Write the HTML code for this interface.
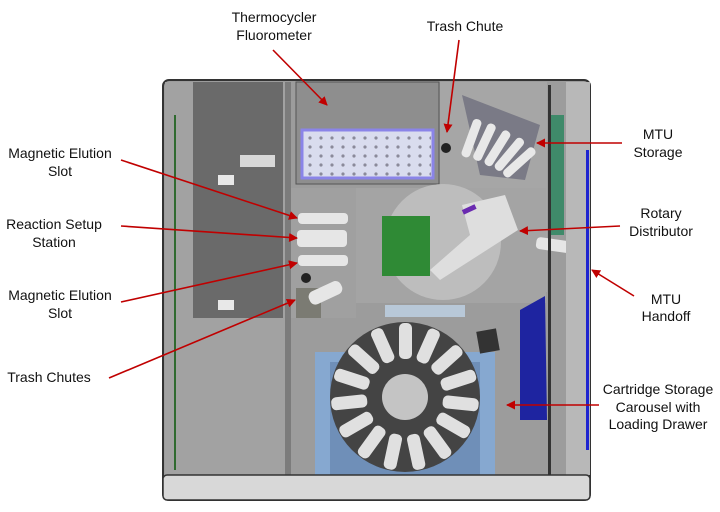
<!DOCTYPE html>
<html><head><style>
html,body{margin:0;padding:0;background:#fff;overflow:hidden;}
svg{display:block;}
text{font-family:"Liberation Sans",sans-serif;font-size:14px;fill:#111;}
</style></head><body>
<svg width="720" height="512" viewBox="0 0 720 512" xmlns="http://www.w3.org/2000/svg">
<defs>
<marker id="a" markerWidth="9" markerHeight="9" refX="8" refY="4.5" orient="auto" markerUnits="userSpaceOnUse"><path d="M0,0 L9,4.5 L0,9 Z" fill="#c00000"/></marker>
<pattern id="dots" x="306" y="134" width="11" height="9" patternUnits="userSpaceOnUse"><circle cx="4" cy="4" r="1.6" fill="#8a8a9a"/></pattern>
</defs>
<rect x="163" y="80" width="427" height="420" rx="6" fill="#9c9c9c" stroke="#333" stroke-width="2"/>
<rect x="165" y="82" width="120" height="395" fill="#a2a2a2"/>
<rect x="193" y="82" width="90" height="236" fill="#6a6a6a"/>
<rect x="240" y="155" width="35" height="12" fill="#d8d8d8"/>
<rect x="218" y="175" width="16" height="10" fill="#e8e8e8"/>
<rect x="218" y="300" width="16" height="10" fill="#e8e8e8"/>
<line x1="175" y1="115" x2="175" y2="470" stroke="#2f6a2f" stroke-width="2"/>
<rect x="285" y="82" width="6" height="395" fill="#7c7c7c"/>
<rect x="296" y="82" width="143" height="102" fill="#8e8e8e" stroke="#555"/>
<rect x="302" y="130" width="131" height="48" fill="#d9dcee" stroke="#8a84e8" stroke-width="3"/>
<rect x="304" y="132" width="127" height="44" fill="url(#dots)"/>
<rect x="440" y="82" width="107" height="210" fill="#a6a6a6"/>
<path d="M462,95 L540,125 L525,180 L480,175 Z" fill="#7a7a86"/>
<g fill="#e8e8e8"><rect x="467" y="118" width="9" height="40" rx="4" transform="rotate(20 471 138)"/><rect x="480" y="122" width="9" height="40" rx="4" transform="rotate(25 484 142)"/><rect x="493" y="128" width="9" height="40" rx="4" transform="rotate(32 497 148)"/><rect x="505" y="134" width="9" height="40" rx="4" transform="rotate(40 509 154)"/><rect x="515" y="142" width="9" height="40" rx="4" transform="rotate(48 519 162)"/></g>
<circle cx="446" cy="148" r="5" fill="#222"/>
<rect x="291" y="188" width="65" height="130" fill="#a0a0a0"/>
<rect x="298" y="213" width="50" height="11" rx="4" fill="#e6e6e6"/>
<rect x="297" y="230" width="50" height="17" rx="4" fill="#e6e6e6"/>
<rect x="298" y="255" width="50" height="11" rx="4" fill="#e6e6e6"/>
<circle cx="306" cy="278" r="5" fill="#222"/>
<rect x="296" y="288" width="25" height="30" fill="#7b7b73"/>
<rect x="308" y="286" width="35" height="14" rx="6" fill="#e6e6e6" transform="rotate(-25 325 293)"/>
<rect x="356" y="188" width="190" height="115" fill="#a4a4a4"/>
<circle cx="443" cy="242" r="58" fill="#bdbdbd"/>
<rect x="382" y="216" width="48" height="60" fill="#2f8a35"/>
<path d="M462,205 L505,195 L518,230 L440,280 L430,270 L470,235 Z" fill="#dedede"/>
<rect x="462" y="207" width="14" height="5" fill="#6a2ab0" transform="rotate(-25 469 209)"/>
<rect x="536" y="240" width="48" height="12" rx="4" fill="#e6e6e6" transform="rotate(8 560 246)"/>
<rect x="385" y="305" width="80" height="12" fill="#b8c8d8"/>
<rect x="315" y="352" width="180" height="123" fill="#86a8d0"/>
<rect x="330" y="362" width="150" height="113" fill="#6f8fb8"/>
<circle cx="405" cy="397" r="75" fill="#444"/>
<g fill="#e0e0e0">
<rect x="399" y="323" width="13" height="36" rx="5"/>
<rect x="399" y="323" width="13" height="36" rx="5" transform="rotate(24 405 397)"/>
<rect x="399" y="323" width="13" height="36" rx="5" transform="rotate(48 405 397)"/>
<rect x="399" y="323" width="13" height="36" rx="5" transform="rotate(72 405 397)"/>
<rect x="399" y="323" width="13" height="36" rx="5" transform="rotate(96 405 397)"/>
<rect x="399" y="323" width="13" height="36" rx="5" transform="rotate(120 405 397)"/>
<rect x="399" y="323" width="13" height="36" rx="5" transform="rotate(144 405 397)"/>
<rect x="399" y="323" width="13" height="36" rx="5" transform="rotate(168 405 397)"/>
<rect x="399" y="323" width="13" height="36" rx="5" transform="rotate(192 405 397)"/>
<rect x="399" y="323" width="13" height="36" rx="5" transform="rotate(216 405 397)"/>
<rect x="399" y="323" width="13" height="36" rx="5" transform="rotate(240 405 397)"/>
<rect x="399" y="323" width="13" height="36" rx="5" transform="rotate(264 405 397)"/>
<rect x="399" y="323" width="13" height="36" rx="5" transform="rotate(288 405 397)"/>
<rect x="399" y="323" width="13" height="36" rx="5" transform="rotate(312 405 397)"/>
<rect x="399" y="323" width="13" height="36" rx="5" transform="rotate(336 405 397)"/>
</g>
<circle cx="405" cy="397" r="23" fill="#c4c4c4"/>
<rect x="478" y="330" width="20" height="22" fill="#333" transform="rotate(-10 488 341)"/>
<path d="M520,310 L545,296 L547,420 L520,420 Z" fill="#1e24a0"/>
<rect x="548" y="115" width="16" height="120" fill="#3f8a6a"/>
<rect x="548" y="85" width="3" height="395" fill="#333"/>
<rect x="566" y="82" width="24" height="393" fill="#b8b8b8"/>
<rect x="586" y="150" width="3" height="300" fill="#1e24d0"/>
<rect x="163" y="475" width="427" height="25" rx="4" fill="#d8d8d8" stroke="#333" stroke-width="1.5"/>
<g stroke="#c00000" stroke-width="1.6" fill="none" marker-end="url(#a)">
<line x1="273" y1="50" x2="327" y2="105"/>
<line x1="459" y1="40" x2="447" y2="132"/>
<line x1="622" y1="143" x2="537" y2="143"/>
<line x1="121" y1="160" x2="297" y2="218"/>
<line x1="121" y1="226" x2="297" y2="238"/>
<line x1="121" y1="302" x2="297" y2="263"/>
<line x1="109" y1="378" x2="295" y2="300"/>
<line x1="620" y1="226" x2="520" y2="231"/>
<line x1="634" y1="296" x2="592" y2="270"/>
<line x1="599" y1="405" x2="507" y2="405"/>
</g>
<g text-anchor="middle">
<text x="274" y="22">Thermocycler</text><text x="274" y="40">Fluorometer</text>
<text x="465" y="31">Trash Chute</text>
<text x="658" y="139">MTU</text><text x="658" y="157">Storage</text>
<text x="60" y="158">Magnetic Elution</text><text x="60" y="176">Slot</text>
<text x="54" y="229">Reaction Setup</text><text x="54" y="247">Station</text>
<text x="60" y="300">Magnetic Elution</text><text x="60" y="318">Slot</text>
<text x="49" y="382">Trash Chutes</text>
<text x="661" y="218">Rotary</text><text x="661" y="236">Distributor</text>
<text x="666" y="304">MTU</text><text x="666" y="321">Handoff</text>
<text x="658" y="394">Cartridge Storage</text><text x="658" y="412">Carousel with</text><text x="658" y="429">Loading Drawer</text>
</g>
</svg>
</body></html>
